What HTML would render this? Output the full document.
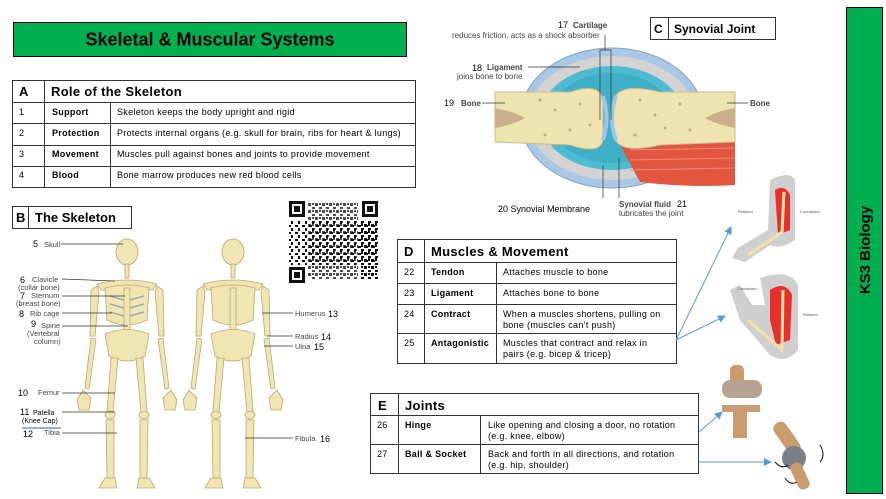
<!DOCTYPE html>
<html><head><meta charset="utf-8"><style>
html,body{margin:0;padding:0;background:#fff}
body{width:886px;height:499px;position:relative;overflow:hidden;font-family:"Liberation Sans",sans-serif}
svg{position:absolute;left:0;top:0}
text{font-family:"Liberation Sans",sans-serif}
.t{font-size:9px;letter-spacing:0.3px}
</style></head><body>
<svg width="886" height="499" viewBox="0 0 886 499" xmlns="http://www.w3.org/2000/svg">
<defs>
<marker id="ar" markerWidth="8" markerHeight="8" refX="7" refY="4" orient="auto" markerUnits="userSpaceOnUse"><path d="M0,0 L8,4 L0,8 z" fill="#5b9bd5"/></marker>
<g id="skel" fill="#f1e6b2" stroke="#b8a872" stroke-width="0.8">
  <ellipse cx="0" cy="252" rx="11" ry="13"/>
  <rect x="-2" y="264" width="4" height="14"/>
  <path d="M-30,284 Q0,276 30,284 L26,290 L-26,290z"/>
  <path d="M-22,288 Q0,282 22,288 L20,320 Q0,330 -20,320z"/>
  <rect x="-3" y="288" width="6" height="46"/>
  <path d="M-22,334 Q0,325 22,334 L18,356 Q0,366 -18,356z"/>
  <path d="M-30,286 L-36,290 L-37,336 L-32,336 L-28,292z"/>
  <path d="M30,286 L36,290 L37,336 L32,336 L28,292z"/>
  <path d="M-36,338 L-42,388 L-38,389 L-31,339z"/>
  <path d="M36,338 L42,388 L38,389 L31,339z"/>
  <path d="M-44,390 L-50,400 L-48,410 L-38,410 L-36,398z"/>
  <path d="M44,390 L50,400 L48,410 L38,410 L36,398z"/>
  <path d="M-16,358 L-20,412 L-14,412 L-9,358z"/>
  <path d="M16,358 L20,412 L14,412 L9,358z"/>
  <ellipse cx="-17" cy="415" rx="5" ry="4"/><ellipse cx="17" cy="415" rx="5" ry="4"/>
  <path d="M-21,420 L-20,478 L-13,478 L-13,420z"/>
  <path d="M21,420 L20,478 L13,478 L13,420z"/>
  <path d="M-22,478 L-28,488 L-10,488 L-12,478z"/>
  <path d="M22,478 L28,488 L10,488 L12,478z"/>
</g>
<pattern id="p" width="7" height="7" patternUnits="userSpaceOnUse"><rect width="3" height="3" fill="#111"/><rect x="4" y="4" width="3" height="2" fill="#111"/><rect x="4" y="0" width="2" height="2" fill="#111"/></pattern>
<pattern id="p2" width="7" height="7" patternUnits="userSpaceOnUse"><rect x="1" y="1" width="3" height="2" fill="#111"/><rect x="4" y="4" width="2" height="3" fill="#111"/></pattern>
</defs>

<!-- Title -->
<rect x="13.5" y="22.5" width="393" height="34" fill="#00b050" stroke="#000"/>
<text x="210" y="45.5" font-size="18" font-weight="bold" text-anchor="middle">Skeletal &amp; Muscular Systems</text>

<!-- Table A -->
<g stroke="#333" fill="none" stroke-width="1">
<rect x="12.5" y="80.5" width="403" height="107"/>
<line x1="12" y1="102.5" x2="416" y2="102.5"/>
<line x1="12" y1="123.5" x2="416" y2="123.5"/>
<line x1="12" y1="145.5" x2="416" y2="145.5"/>
<line x1="12" y1="166.5" x2="416" y2="166.5"/>
<line x1="44.5" y1="80" x2="44.5" y2="188"/>
<line x1="110.5" y1="102" x2="110.5" y2="188"/>
</g>
<g class="t">
<text x="19" y="96" font-size="13" font-weight="bold">A</text>
<text x="51" y="96" font-size="13" font-weight="bold">Role of the Skeleton</text>
<text x="19" y="115">1</text><text x="52" y="115" font-weight="bold">Support</text><text x="117" y="115">Skeleton keeps the body upright and rigid</text>
<text x="19" y="136">2</text><text x="52" y="136" font-weight="bold">Protection</text><text x="117" y="136">Protects internal organs (e.g. skull for brain, ribs for heart &amp; lungs)</text>
<text x="19" y="157">3</text><text x="52" y="157" font-weight="bold">Movement</text><text x="117" y="157">Muscles pull against bones and joints to provide movement</text>
<text x="19" y="178">4</text><text x="52" y="178" font-weight="bold">Blood</text><text x="117" y="178">Bone marrow produces new red blood cells</text>
</g>

<!-- B header -->
<rect x="12.5" y="206.5" width="119" height="22" fill="none" stroke="#333"/>
<line x1="28.5" y1="206" x2="28.5" y2="229" stroke="#333"/>
<text x="16" y="222" font-size="13" font-weight="bold">B</text>
<text x="35" y="222" font-size="13" font-weight="bold">The Skeleton</text>

<!-- Skeletons -->
<use href="#skel" transform="translate(127,0)"/>
<use href="#skel" transform="translate(233,0)"/>
<g stroke="#8aa3c4" stroke-width="1.2">
<line x1="110" y1="296" x2="124" y2="300"/><line x1="110" y1="304" x2="124" y2="308"/><line x1="110" y1="312" x2="124" y2="316"/>
<line x1="144" y1="296" x2="130" y2="300"/><line x1="144" y1="304" x2="130" y2="308"/><line x1="144" y1="312" x2="130" y2="316"/>
</g>
<g stroke="#333" stroke-width="0.7">
<line x1="61" y1="244" x2="123" y2="244"/>
<line x1="62" y1="279" x2="115" y2="281"/>
<line x1="62" y1="296" x2="125" y2="296"/>
<line x1="62" y1="313" x2="112" y2="313"/>
<line x1="62" y1="326" x2="128" y2="326"/>
<line x1="62" y1="393" x2="115" y2="393"/>
<line x1="62" y1="412" x2="115" y2="412"/>
<line x1="62" y1="433" x2="117" y2="433"/>
<line x1="262" y1="313" x2="293" y2="313"/>
<line x1="267" y1="336" x2="293" y2="336"/>
<line x1="264" y1="346" x2="293" y2="346"/>
<line x1="245" y1="438" x2="293" y2="438"/>
</g>
<line x1="22" y1="428" x2="61" y2="428" stroke="#3060c0" stroke-width="1"/>
<g font-size="7.5" fill="#444">
<text x="33" y="247" font-size="9" fill="#000">5</text><text x="44" y="247">Skull</text>
<text x="20" y="283" font-size="9" fill="#000">6</text><text x="32" y="282">Clavicle</text><text x="18" y="290">(collar bone)</text>
<text x="20" y="299" font-size="9" fill="#000">7</text><text x="31" y="298">Sternum</text><text x="16" y="306">(breast bone)</text>
<text x="19" y="317" font-size="9" fill="#000">8</text><text x="30" y="316">Rib cage</text>
<text x="31" y="327" font-size="9" fill="#000">9</text><text x="41" y="328">Spine</text><text x="27" y="336">(Vertebral</text><text x="34" y="344">column)</text>
<text x="18" y="396" font-size="9" fill="#000">10</text><text x="38" y="395">Femur</text>
<text x="20" y="415" font-size="9" fill="#000">11</text><text x="33" y="415" fill="#000" font-size="7">Patella</text><text x="22" y="423" fill="#000" font-size="7">(Knee Cap)</text>
<text x="23" y="437" font-size="9" fill="#000">12</text><text x="44" y="435">Tibia</text>
<text x="295" y="316">Humerus</text><text x="328" y="317" font-size="9" fill="#000">13</text>
<text x="295" y="339">Radius</text><text x="321" y="340" font-size="9" fill="#000">14</text>
<text x="295" y="349">Ulna</text><text x="314" y="350" font-size="9" fill="#000">15</text>
<text x="295" y="441">Fibula</text><text x="320" y="442" font-size="9" fill="#000">16</text>
</g>

<!-- QR -->
<rect x="289" y="201" width="89" height="82" fill="#fff"/>
<rect x="308" y="202" width="50" height="78" fill="url(#p)" opacity="0.75"/>
<rect x="289" y="220" width="89" height="45" fill="url(#p2)"/>
<rect x="360" y="220" width="18" height="60" fill="url(#p)"/>
<g fill="#111">
<rect x="289" y="201" width="16" height="16"/><rect x="292" y="204" width="10" height="10" fill="#fff"/><rect x="294" y="206" width="6" height="6"/>
<rect x="362" y="201" width="16" height="16"/><rect x="365" y="204" width="10" height="10" fill="#fff"/><rect x="367" y="206" width="6" height="6"/>
<rect x="289" y="267" width="16" height="16"/><rect x="292" y="270" width="10" height="10" fill="#fff"/><rect x="294" y="272" width="6" height="6"/>
</g>

<!-- Synovial joint -->
<ellipse cx="612" cy="118" rx="92" ry="70" fill="#a9c8e6" stroke="#7fa3c6"/>
<ellipse cx="612" cy="118" rx="84" ry="62" fill="#d3d3d3"/>
<ellipse cx="612" cy="118" rx="72" ry="52" fill="#4dbbd1"/>
<ellipse cx="612" cy="118" rx="62" ry="45" fill="#3eafc6"/>
<path d="M620,145 L735,140 L735,185 Q690,188 640,182 Z" fill="#e2553f"/>
<path d="M630,150 L735,148 M630,160 L735,158 M630,170 L735,168" stroke="#f08a78" stroke-width="1"/>
<path d="M495,92 L570,92 Q600,82 603,100 L603,140 Q600,155 570,145 L495,142 Z" fill="#efe3b0" stroke="#c9b98a"/>
<path d="M735,92 L660,92 Q618,82 614,100 Q608,118 614,136 Q618,155 660,145 L735,142 Z" fill="#efe3b0" stroke="#c9b98a"/>
<path d="M603,96 Q610,118 603,140" stroke="#9ec5e5" stroke-width="4" fill="none"/>
<path d="M616,96 Q608,118 616,140" stroke="#9ec5e5" stroke-width="4" fill="none"/>
<path d="M495,108 Q515,112 525,118 Q515,124 495,128z" fill="#c9b08a"/>
<path d="M735,108 Q715,112 705,118 Q715,124 735,128z" fill="#c9b08a"/>
<g fill="#9c8458" opacity="0.6">
<circle cx="540" cy="100" r="1.5"/><circle cx="555" cy="110" r="1.5"/><circle cx="580" cy="104" r="1.5"/><circle cx="590" cy="125" r="1.5"/><circle cx="545" cy="135" r="1.5"/><circle cx="570" cy="130" r="1.5"/>
<circle cx="640" cy="100" r="1.5"/><circle cx="655" cy="115" r="1.5"/><circle cx="680" cy="104" r="1.5"/><circle cx="690" cy="130" r="1.5"/><circle cx="635" cy="135" r="1.5"/><circle cx="665" cy="128" r="1.5"/>
</g>
<g stroke="#333" stroke-width="0.7" fill="none">
<path d="M600,120 L600,50 L611,50 L611,120"/><line x1="605" y1="50" x2="605" y2="35"/>
<line x1="528" y1="67" x2="580" y2="67"/>
<line x1="482" y1="103" x2="505" y2="103"/>
<line x1="727" y1="103" x2="748" y2="103"/>
<line x1="603" y1="165" x2="603" y2="198"/>
<line x1="619" y1="158" x2="619" y2="198"/>
</g>
<g font-size="8" fill="#444">
<text x="558" y="28" fill="#000" font-size="9">17</text><text x="573" y="28" font-weight="bold">Cartilage</text>
<text x="452" y="38">reduces friction, acts as a shock absorber</text>
<text x="472" y="71" fill="#000" font-size="9">18</text><text x="487" y="70" font-weight="bold">Ligament</text>
<text x="457" y="79">joins bone to bone</text>
<text x="444" y="106" fill="#000" font-size="9">19</text><text x="461" y="106" font-weight="bold">Bone</text>
<text x="750" y="106" font-weight="bold">Bone</text>
<text x="498" y="212" fill="#000" font-size="9">20 Synovial Membrane</text>
<text x="619" y="207" font-weight="bold">Synovial fluid</text><text x="677" y="207" fill="#000" font-size="9">21</text>
<text x="619" y="216">lubricates the joint</text>
</g>
<rect x="650.5" y="17.5" width="125" height="22" fill="#fff" stroke="#333"/>
<line x1="668.5" y1="17" x2="668.5" y2="40" stroke="#333"/>
<text x="654" y="33" font-size="12" font-weight="bold">C</text>
<text x="674" y="33" font-size="12" font-weight="bold">Synovial Joint</text>

<!-- Arms -->
<path d="M770,180 Q790,170 795,180 L795,240 Q780,250 770,245 L745,262 L732,258 L738,248 L768,230 Z" fill="#cfcfcf"/>
<path d="M775,190 Q785,184 790,195 L790,230 L778,235 Z" fill="#e8302a"/>
<path d="M784,192 L782,232 L748,255" stroke="#efe3a8" stroke-width="3" fill="none"/>
<path d="M760,278 Q790,268 798,285 L798,350 Q785,365 770,355 L740,320 L730,290 L740,285 L752,305 L765,305 Z" fill="#cfcfcf"/>
<path d="M770,290 Q785,280 792,295 L790,340 L776,345 L770,320 Z" fill="#e8302a"/>
<path d="M783,290 L782,350 L748,320" stroke="#efe3a8" stroke-width="3" fill="none"/>
<g font-size="4" fill="#555"><text x="738" y="213">Relaxed</text><text x="800" y="213">Contracted</text><text x="737" y="290">Contracted</text><text x="803" y="316">Relaxed</text></g>

<!-- Joints pictures -->
<rect x="730" y="365" width="14" height="30" rx="5" fill="#c89c6c"/>
<rect x="722" y="380" width="40" height="18" rx="8" fill="#b8a390"/>
<rect x="722" y="405" width="38" height="7" fill="#c89c6c"/>
<rect x="733" y="410" width="14" height="28" fill="#c89c6c"/>
<rect x="780" y="420" width="14" height="36" rx="6" fill="#c89c6c" transform="rotate(-35 787 438)"/>
<circle cx="794" cy="458" r="12" fill="#7a7f88"/>
<rect x="794" y="462" width="12" height="28" rx="5" fill="#c89c6c" transform="rotate(-25 800 476)"/>
<g stroke="#111" fill="none" stroke-width="1"><path d="M775,462 Q782,470 788,465"/><path d="M820,445 Q826,455 820,462"/><path d="M785,478 Q790,486 797,482"/></g>

<!-- Table D -->
<g stroke="#333" fill="none">
<rect x="397.5" y="239.5" width="279" height="124" fill="#fff"/>
<line x1="397" y1="262.5" x2="677" y2="262.5"/>
<line x1="397" y1="283.5" x2="677" y2="283.5"/>
<line x1="397" y1="304.5" x2="677" y2="304.5"/>
<line x1="397" y1="333.5" x2="677" y2="333.5"/>
<line x1="424.5" y1="239" x2="424.5" y2="364"/>
<line x1="496.5" y1="262" x2="496.5" y2="364"/>
</g>
<g class="t">
<text x="404" y="256" font-size="13" font-weight="bold">D</text>
<text x="431" y="256" font-size="13" font-weight="bold">Muscles &amp; Movement</text>
<text x="404" y="275">22</text><text x="431" y="275" font-weight="bold">Tendon</text><text x="503" y="275">Attaches muscle to bone</text>
<text x="404" y="296">23</text><text x="431" y="296" font-weight="bold">Ligament</text><text x="503" y="296">Attaches bone to bone</text>
<text x="404" y="317">24</text><text x="431" y="317" font-weight="bold">Contract</text><text x="503" y="317">When a muscles shortens, pulling on</text><text x="503" y="328">bone (muscles can’t push)</text>
<text x="404" y="346">25</text><text x="431" y="346" font-weight="bold">Antagonistic</text><text x="503" y="346">Muscles that contract and relax in</text><text x="503" y="357">pairs (e.g. bicep &amp; tricep)</text>
</g>

<!-- Table E -->
<g stroke="#333" fill="none">
<rect x="370.5" y="393.5" width="328" height="80" fill="#fff"/>
<line x1="370" y1="415.5" x2="699" y2="415.5"/>
<line x1="370" y1="444.5" x2="699" y2="444.5"/>
<line x1="398.5" y1="393" x2="398.5" y2="474"/>
<line x1="480.5" y1="415" x2="480.5" y2="474"/>
</g>
<g class="t">
<text x="378" y="410" font-size="13" font-weight="bold">E</text>
<text x="405" y="410" font-size="13" font-weight="bold">Joints</text>
<text x="377" y="428">26</text><text x="405" y="428" font-weight="bold">Hinge</text><text x="488" y="428">Like opening and closing a door, no rotation</text><text x="488" y="439">(e.g. knee, elbow)</text>
<text x="377" y="457">27</text><text x="405" y="457" font-weight="bold">Ball &amp; Socket</text><text x="488" y="457">Back and forth in all directions, and rotation</text><text x="488" y="468">(e.g. hip, shoulder)</text>
</g>

<!-- Arrows -->
<g stroke="#5b9bd5" stroke-width="1" fill="none" marker-end="url(#ar)">
<line x1="676" y1="340" x2="731" y2="227"/>
<line x1="676" y1="340" x2="725" y2="316"/>
<line x1="699" y1="432" x2="722" y2="412"/>
<line x1="699" y1="462" x2="771" y2="462"/>
</g>

<!-- Side bar -->
<rect x="846.5" y="7.5" width="36" height="486" fill="#00b050" stroke="#000"/>
<text transform="translate(870,250) rotate(-90)" font-size="15" font-weight="bold" text-anchor="middle">KS3 Biology</text>
</svg>
</body></html>
